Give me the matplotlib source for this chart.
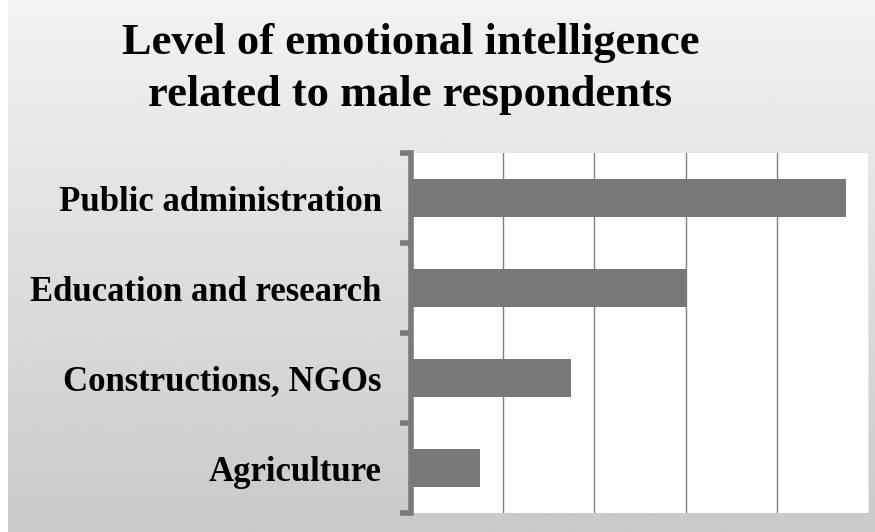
import matplotlib.pyplot as plt
import numpy as np

categories = ['Agriculture', 'Constructions, NGOs', 'Education and research', 'Public administration']
values = [0.75, 1.75, 3.0, 4.75]
title = 'Level of emotional intelligence\nrelated to male respondents'

fig = plt.figure(figsize=(8.75, 5.32), dpi=100)
fig.patch.set_facecolor('white')

# grey gradient background behind everything
bg = fig.add_axes([0.009, 0, 0.991, 1], zorder=0)
grad = np.linspace(0.95, 0.79, 256).reshape(-1, 1)
bg.imshow(grad, aspect='auto', cmap='gray', vmin=0, vmax=1, extent=[0, 1, 0, 1])
bg.axis('off')

ax = fig.add_axes([0.4697, 0.0357, 0.5234, 0.6767], zorder=1)
ax.set_facecolor('white')
y = np.arange(len(categories))
ax.barh(y, values, height=0.42, color='#787878', zorder=2)

ax.set_xlim(0, 5)
ax.set_ylim(-0.5, len(categories) - 0.5)
ax.set_xticks(range(0, 6))
ax.set_xticklabels([])
ax.tick_params(axis='x', length=0)
ax.grid(axis='x', color='#7f7f7f', linewidth=1.0, zorder=1)

ax.set_yticks(y)
ax.set_yticklabels(categories, fontfamily='Liberation Serif', fontweight='bold', fontsize=25)
ax.tick_params(axis='y', which='major', length=0, pad=21)
ax.set_yticks(np.arange(-0.5, len(categories)), minor=True)
ax.tick_params(axis='y', which='minor', length=8, width=4, color='#7a7a7a', direction='out')

for s in ['top', 'right', 'bottom']:
    ax.spines[s].set_visible(False)
ax.spines['left'].set_color('#7a7a7a')
ax.spines['left'].set_linewidth(4)

fig.text(0.469, 0.957, title, ha='center', va='top', fontfamily='Liberation Serif',
         fontweight='bold', fontsize=32, linespacing=1.38)

fig.savefig('out.png', dpi=100)
